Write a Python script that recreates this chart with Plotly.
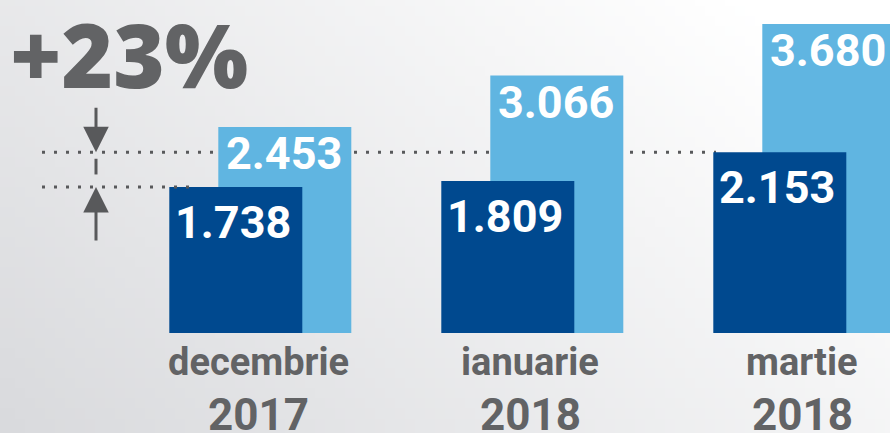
import base64
import struct
import zlib

import plotly.graph_objects as go

# ---- data ----
months = ["decembrie", "ianuarie", "martie"]
years = ["2017", "2018", "2018"]
series_dark = [1738, 1809, 2153]
series_light = [2453, 3066, 3680]
headline = "+23%"

DARK = "#00498f"
LIGHT = "#60b5e1"
GRAY = "#626365"
ARROW = "#58595b"

W, H = 890, 433
PX_PER_UNIT = 0.084
BASE_PX = 333            # pixel row of y=0
CAT_PX0, CAT_STEP = 260.3, 272.0
BAR_W_PX = 133
BAR_SHIFT_PX = 24.5


# ---- background gradient as a small PNG ----
def gradient_png(w, h):
    c0 = (217, 218, 221)
    c1 = (255, 255, 255)
    rows = []
    for j in range(h):
        row = bytearray([0])
        for i in range(w):
            t = 0.65 * i / (w - 1) + 0.35 * (1 - j / (h - 1))
            t = min(1.0, t * 1.12)
            for k in range(3):
                row.append(int(round(c0[k] + (c1[k] - c0[k]) * t)))
        rows.append(bytes(row))
    raw = b"".join(rows)

    def chunk(tag, data):
        c = struct.pack(">I", len(data)) + tag + data
        return c + struct.pack(">I", zlib.crc32(tag + data) & 0xFFFFFFFF)

    png = b"\x89PNG\r\n\x1a\n"
    png += chunk(b"IHDR", struct.pack(">IIBBBBB", w, h, 8, 2, 0, 0, 0))
    png += chunk(b"IDAT", zlib.compress(raw, 9))
    png += chunk(b"IEND", b"")
    return "data:image/png;base64," + base64.b64encode(png).decode()


bar_w = BAR_W_PX / CAT_STEP
shift = BAR_SHIFT_PX / CAT_STEP

fig = go.Figure()
fig.add_trace(go.Bar(
    x=months, y=series_light, width=bar_w, offset=shift - bar_w / 2,
    marker=dict(color=LIGHT, line=dict(width=0)), hoverinfo="skip",
))
fig.add_trace(go.Bar(
    x=months, y=series_dark, width=bar_w, offset=-shift - bar_w / 2,
    marker=dict(color=DARK, line=dict(width=0)), hoverinfo="skip",
))


def fmt(v):
    return f"{v:,}".replace(",", ".")


annotations = []
for m, v in zip(months, series_light):
    annotations.append(dict(
        x=m, y=v, xref="x", yref="y", text=fmt(v), showarrow=False,
        xshift=BAR_SHIFT_PX - 1, yshift=-27, xanchor="center", yanchor="middle",
        font=dict(family="Roboto", size=45, color="white", weight=700),
    ))
for m, v in zip(months, series_dark):
    annotations.append(dict(
        x=m, y=v, xref="x", yref="y", text=fmt(v), showarrow=False,
        xshift=-BAR_SHIFT_PX - 3, yshift=-35, xanchor="center", yanchor="middle",
        font=dict(family="Roboto", size=45, color="white", weight=700),
    ))
for m, yr in zip(months, years):
    annotations.append(dict(
        x=m, y=1 - 362 / H, xref="x", yref="paper", text=m, showarrow=False,
        xanchor="center", yanchor="middle", xshift=-2,
        font=dict(family="Roboto", size=38, color=GRAY, weight=700),
    ))
    annotations.append(dict(
        x=m, y=1 - 415 / H, xref="x", yref="paper", text=yr, showarrow=False,
        xanchor="center", yanchor="middle", xshift=-2,
        font=dict(family="Roboto", size=44, color=GRAY, weight=700),
    ))

# headline
annotations.append(dict(
    x=8 / W, y=1 - 54 / H, xref="paper", yref="paper", text=headline,
    showarrow=False, xanchor="left", yanchor="middle",
    font=dict(family="Open Sans", size=88, color=GRAY, weight=800),
))

lo, hi = series_dark[0], series_dark[2]
arrow_x = 96 / W
annotations.append(dict(
    x=arrow_x, y=hi, xref="paper", yref="y", ax=0, ay=-46, axref="pixel", ayref="pixel",
    text="", showarrow=True, arrowhead=2, arrowsize=1.7, arrowwidth=3,
    arrowcolor=ARROW, standoff=0,
))
annotations.append(dict(
    x=arrow_x, y=lo, xref="paper", yref="y", ax=0, ay=55, axref="pixel", ayref="pixel",
    text="", showarrow=True, arrowhead=2, arrowsize=1.7, arrowwidth=3,
    arrowcolor=ARROW, standoff=0,
))

shapes = [
    dict(type="line", xref="paper", yref="y", x0=42 / W, x1=716 / W, y0=hi, y1=hi,
         line=dict(color=ARROW, width=3, dash="3px,9px"), layer="below"),
    dict(type="line", xref="paper", yref="y", x0=42 / W, x1=196 / W, y0=lo, y1=lo,
         line=dict(color=ARROW, width=3, dash="3px,9px"), layer="above"),
    dict(type="line", xref="paper", yref="y", x0=arrow_x, x1=arrow_x,
         y0=lo + (hi - lo) * 0.36, y1=hi - (hi - lo) * 0.19,
         line=dict(color=ARROW, width=3), layer="above"),
]

fig.update_layout(
    width=W, height=H,
    margin=dict(l=0, r=0, t=0, b=0),
    barmode="overlay",
    showlegend=False,
    paper_bgcolor="#ececee",
    plot_bgcolor="rgba(0,0,0,0)",
    xaxis=dict(
        range=[(0 - CAT_PX0) / CAT_STEP, (W - CAT_PX0) / CAT_STEP],
        showgrid=False, zeroline=False, showticklabels=False, showline=False,
        fixedrange=True,
    ),
    yaxis=dict(
        range=[-(H - BASE_PX) / PX_PER_UNIT, BASE_PX / PX_PER_UNIT],
        showgrid=False, zeroline=False, showticklabels=False, showline=False,
        fixedrange=True,
    ),
    images=[dict(
        source=gradient_png(89, 43), xref="paper", yref="paper",
        x=0, y=1, sizex=1, sizey=1, sizing="stretch", layer="below",
        xanchor="left", yanchor="top",
    )],
    annotations=annotations,
    shapes=shapes,
)

fig.write_html(
    "out.html",
    config={"displayModeBar": False},
    post_script="document.body.style.margin='0';document.body.style.overflow='hidden';",
)
